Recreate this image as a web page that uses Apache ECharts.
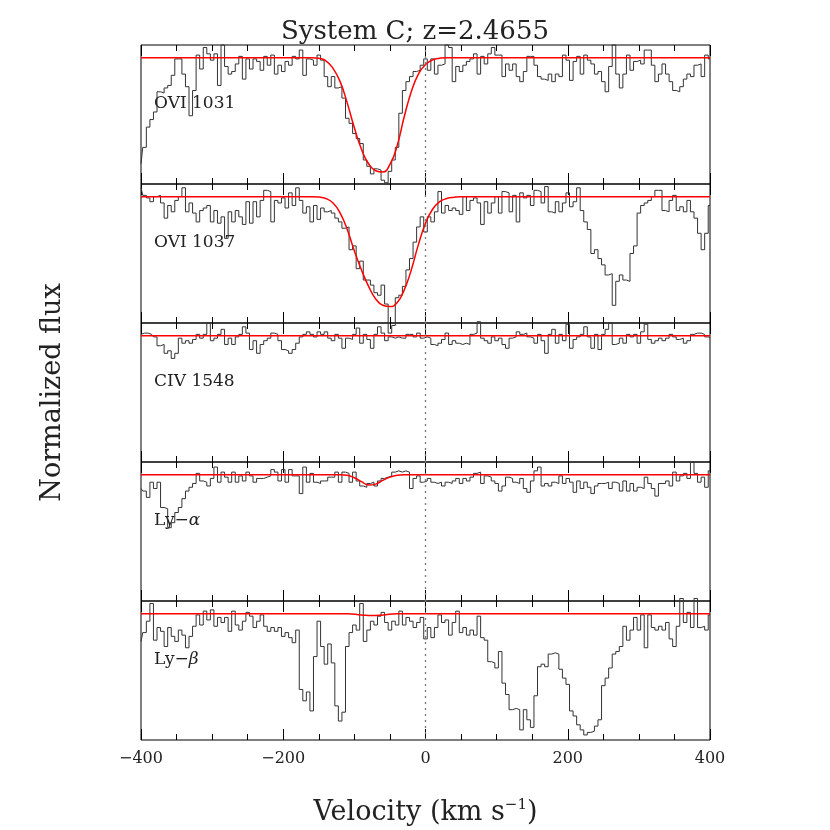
<!DOCTYPE html>
<html>
<head>
<meta charset="utf-8">
<script src="https://cdn.jsdelivr.net/npm/echarts@6/dist/echarts.min.js"></script>
<style>
  html, body { margin: 0; padding: 0; background: #fff; }
  #chart { width: 830px; height: 830px; }
</style>
</head>
<body>
<div id="chart"></div>
<script>
// velocity bins (km/s), 5 km/s wide
const vStart = -400
const vStep = 5
const velocity = []
for (let v = vStart; v <= 400; v += vStep) velocity.push(v)

// normalized flux per bin
const ovi1031 = [
  0.16, 0.29, 0.45, 0.51, 0.57, 0.73, 0.72, 0.76, 0.78, 0.86, 0.99, 0.99, 0.87, 0.77, 0.54, 0.74, 1.02, 0.91, 1.08, 1.03,
  0.98, 1.03, 0.78, 1.10, 0.93, 0.87, 0.89, 0.95, 1.01, 0.83, 0.99, 0.91, 0.99, 0.97, 0.90, 1.01, 0.94, 1.02, 0.87, 0.94,
  0.89, 0.97, 0.94, 1.01, 0.99, 1.06, 0.86, 0.99, 0.98, 0.94, 1.02, 0.98, 0.85, 0.77, 0.85, 0.76, 0.77, 0.68, 0.52, 0.48,
  0.40, 0.36, 0.32, 0.19, 0.14, 0.08, 0.12, 0.11, 0.03, 0.01, 0.10, 0.19, 0.29, 0.56, 0.74, 0.81, 0.85, 0.89, 0.90, 0.94,
  0.99, 0.90, 0.99, 0.87, 0.94, 0.95, 1.10, 1.08, 0.81, 0.93, 0.89, 0.94, 0.97, 0.99, 1.03, 0.87, 1.01, 0.95, 1.03, 1.08,
  1.02, 1.02, 0.85, 0.95, 0.90, 0.95, 0.85, 0.81, 0.89, 1.01, 1.01, 0.94, 0.85, 0.83, 0.82, 0.87, 0.81, 0.87, 0.85, 1.02,
  0.98, 0.82, 0.97, 1.01, 0.87, 1.02, 0.98, 0.95, 0.87, 0.89, 0.81, 0.73, 0.93, 1.10, 0.87, 0.76, 0.87, 1.02, 0.90, 0.97,
  0.98, 0.95, 1.06, 1.06, 0.94, 0.81, 0.87, 0.95, 0.87, 0.81, 0.74, 0.73, 0.77, 0.83, 0.87, 0.85, 0.94, 0.95, 0.85, 1.02,
  0.99
]
const ovi1037 = [
  1.07, 1.01, 0.99, 0.96, 1.00, 1.01, 0.95, 0.83, 0.93, 0.88, 0.97, 1.00, 1.07, 0.88, 0.95, 0.87, 0.80, 0.89, 0.91, 0.93,
  0.80, 0.89, 0.79, 0.84, 0.67, 0.88, 0.80, 0.89, 0.84, 0.78, 0.96, 0.79, 0.96, 0.84, 0.97, 1.05, 1.04, 0.80, 0.97, 0.95,
  0.99, 0.91, 1.03, 0.93, 1.07, 0.97, 0.87, 0.92, 0.80, 0.93, 0.82, 0.91, 0.88, 0.89, 0.87, 0.83, 0.80, 0.75, 0.76, 0.58,
  0.61, 0.43, 0.49, 0.34, 0.34, 0.30, 0.24, 0.22, 0.30, 0.15, -0.08, -0.02, 0.20, 0.22, 0.29, 0.42, 0.51, 0.64, 0.76, 0.84,
  0.72, 0.84, 0.80, 0.88, 1.04, 0.87, 0.93, 0.89, 0.91, 0.89, 0.86, 1.00, 0.89, 0.97, 0.99, 0.95, 0.78, 0.96, 0.87, 0.95,
  1.00, 0.87, 1.04, 1.03, 0.88, 1.01, 0.80, 1.03, 0.99, 1.01, 0.93, 1.05, 1.04, 0.95, 1.08, 0.88, 0.87, 0.96, 0.88, 0.95,
  1.03, 0.92, 0.96, 1.07, 0.89, 0.80, 0.74, 0.55, 0.58, 0.51, 0.46, 0.38, 0.39, 0.14, 0.33, 0.38, 0.34, 0.33, 0.55, 0.61,
  0.87, 0.93, 0.95, 0.97, 1.00, 1.05, 1.05, 0.89, 0.88, 0.97, 1.01, 0.89, 0.92, 0.88, 0.97, 0.88, 0.83, 0.71, 0.58, 0.71,
  0.93
]
const civ1548 = [
  1.01, 1.02, 1.02, 1.01, 0.99, 0.92, 0.93, 0.86, 0.88, 0.82, 0.86, 0.98, 0.94, 0.96, 0.94, 0.97, 1.01, 0.98, 1.01, 1.10,
  0.96, 0.98, 1.01, 1.05, 0.93, 0.98, 0.93, 0.99, 1.01, 1.07, 1.02, 0.89, 0.96, 0.86, 0.93, 0.96, 0.98, 1.02, 1.01, 0.96,
  0.89, 0.88, 0.86, 0.89, 0.94, 0.99, 1.01, 1.03, 1.01, 0.99, 1.03, 1.01, 1.03, 0.98, 0.96, 1.01, 0.98, 0.90, 0.98, 0.97,
  1.01, 1.06, 0.94, 1.01, 0.97, 0.90, 1.01, 1.07, 1.02, 0.96, 0.99, 0.98, 0.99, 0.98, 0.98, 1.01, 1.01, 0.99, 1.02, 0.98,
  0.99, 0.98, 0.93, 0.92, 0.94, 0.97, 1.02, 0.93, 0.96, 0.94, 0.93, 0.94, 0.93, 1.01, 1.02, 1.11, 0.98, 0.96, 0.94, 0.99,
  0.96, 0.98, 0.93, 0.90, 0.98, 0.99, 1.03, 1.01, 1.02, 0.99, 0.98, 0.94, 1.01, 0.96, 0.86, 1.01, 1.05, 0.94, 1.01, 0.96,
  1.09, 0.90, 0.97, 0.99, 1.01, 1.07, 0.99, 0.90, 1.01, 0.89, 1.01, 1.05, 1.10, 0.93, 0.94, 0.98, 0.94, 1.01, 0.99, 1.01,
  0.94, 1.03, 1.09, 0.97, 0.94, 0.96, 0.98, 0.96, 0.98, 1.01, 0.99, 0.97, 0.98, 0.94, 0.96, 1.01, 1.02, 1.02, 1.01, 0.99,
  0.98
]
const lyAlpha = [
  0.89, 0.87, 0.82, 0.94, 0.89, 0.94, 0.74, 0.73, 0.58, 0.62, 0.70, 0.74, 0.81, 0.87, 0.90, 0.93, 1.01, 0.95, 0.94, 0.91,
  0.97, 1.06, 0.94, 1.02, 0.98, 0.94, 1.02, 0.94, 0.99, 0.95, 1.02, 0.99, 0.94, 0.97, 0.97, 0.98, 0.99, 1.04, 1.02, 0.95,
  1.04, 0.94, 1.04, 0.99, 0.99, 0.85, 1.06, 0.94, 1.01, 0.94, 0.93, 0.95, 0.95, 0.98, 0.98, 1.02, 0.94, 1.02, 1.01, 0.94,
  1.02, 0.95, 0.91, 0.90, 0.93, 0.94, 0.91, 0.95, 0.97, 0.98, 0.99, 1.02, 1.03, 1.02, 1.03, 1.02, 0.89, 0.97, 0.99, 0.94,
  0.95, 0.97, 0.94, 0.93, 0.94, 0.91, 0.94, 0.93, 0.95, 0.97, 0.93, 0.97, 0.95, 0.98, 1.01, 1.02, 0.93, 0.99, 0.98, 0.95,
  0.93, 0.87, 0.91, 0.98, 0.97, 0.94, 0.93, 0.97, 0.89, 0.86, 0.95, 1.03, 1.06, 0.91, 0.93, 0.91, 0.94, 0.93, 0.99, 0.93,
  0.97, 0.94, 0.86, 0.95, 0.89, 0.94, 0.90, 0.85, 0.91, 0.93, 0.93, 0.94, 0.89, 0.94, 0.93, 0.87, 0.95, 0.87, 0.93, 0.87,
  0.90, 0.89, 0.98, 0.93, 0.89, 0.83, 0.93, 0.93, 0.95, 0.91, 1.02, 0.95, 0.99, 1.01, 0.97, 1.10, 1.01, 0.94, 0.98, 0.90,
  1.03
]
const lyBeta = [
  0.78, 0.85, 0.94, 1.08, 0.79, 0.89, 0.86, 0.74, 0.89, 0.82, 0.78, 0.87, 0.83, 0.73, 0.82, 0.90, 0.99, 0.91, 1.02, 0.95,
  1.03, 0.90, 0.97, 0.93, 0.97, 0.86, 1.02, 0.91, 0.87, 0.94, 1.01, 0.98, 0.89, 0.94, 0.99, 0.90, 0.86, 0.89, 0.86, 0.89,
  0.82, 0.85, 0.81, 0.77, 0.87, 0.40, 0.31, 0.38, 0.23, 0.66, 0.94, 0.74, 0.60, 0.76, 0.61, 0.27, 0.15, 0.22, 0.74, 0.85,
  0.91, 0.87, 1.08, 0.78, 0.87, 0.94, 0.91, 0.98, 1.01, 0.93, 0.87, 0.94, 0.91, 1.02, 0.91, 0.97, 0.94, 0.89, 0.93, 0.97,
  0.80, 0.89, 0.81, 0.89, 0.99, 0.93, 0.95, 0.83, 0.93, 1.02, 0.85, 0.89, 0.83, 0.87, 0.83, 0.98, 0.81, 0.79, 0.62, 0.61,
  0.57, 0.70, 0.45, 0.36, 0.24, 0.25, 0.24, 0.08, 0.24, 0.16, 0.10, 0.35, 0.58, 0.60, 0.58, 0.68, 0.69, 0.68, 0.56, 0.49,
  0.44, 0.23, 0.19, 0.12, 0.08, 0.04, 0.06, 0.07, 0.11, 0.16, 0.43, 0.49, 0.57, 0.68, 0.70, 0.74, 0.90, 0.79, 0.87, 0.97,
  0.87, 0.99, 0.73, 0.99, 0.89, 0.87, 0.90, 0.87, 0.93, 0.80, 0.74, 0.90, 1.12, 0.93, 1.01, 0.89, 1.12, 0.89, 0.90, 0.87,
  0.99
]

// fitted model profiles [velocity, flux]
const model1031 = [
  [-400, 1], [-300, 1], [-200, 1], [-170, 1.0], [-160, 1.0], [-150, 0.995], [-140, 0.975], [-130, 0.915], [-120, 0.81],
  [-110, 0.64], [-100, 0.445], [-90, 0.275], [-80, 0.16], [-70, 0.105], [-60, 0.095], [-50, 0.155], [-40, 0.30],
  [-30, 0.53], [-20, 0.73], [-10, 0.87], [0, 0.945], [10, 0.982], [20, 0.995], [30, 1.0], [40, 1.0], [70, 1], [200, 1], [400, 1]
]
const model1037 = [
  [-400, 1], [-300, 1], [-200, 1], [-170, 1.0], [-160, 1.0], [-150, 0.997], [-140, 0.985], [-130, 0.95], [-120, 0.87],
  [-110, 0.74], [-100, 0.57], [-90, 0.42], [-80, 0.29], [-70, 0.19], [-60, 0.14], [-50, 0.13], [-40, 0.16], [-30, 0.26],
  [-20, 0.42], [-10, 0.62], [0, 0.79], [10, 0.90], [20, 0.96], [30, 0.985], [40, 0.995], [50, 1.0], [60, 1.0], [90, 1], [200, 1], [400, 1]
]
const model1548 = [[-400, 1], [400, 1]]
const modelLyA = [
  [-400, 1], [-200, 1], [-130, 1], [-120, 1.0], [-110, 0.995], [-100, 0.975], [-90, 0.945], [-80, 0.917], [-70, 0.925],
  [-60, 0.955], [-50, 0.98], [-40, 0.995], [-30, 1.0], [-20, 1.0], [10, 1], [200, 1], [400, 1]
]
const modelLyB = [
  [-400, 1], [-200, 1], [-120, 1], [-110, 1.0], [-90, 0.99], [-75, 0.985], [-60, 0.99], [-40, 1.0], [-30, 1.0], [0, 1], [200, 1], [400, 1]
]

const panelLabels = ['OVI 1031', 'OVI 1037', 'CIV 1548', 'Ly\u2212{g|\u03b1}', 'Ly\u2212{g|\u03b2}']
const spectra = [ovi1031, ovi1037, civ1548, lyAlpha, lyBeta]
const models = [model1031, model1037, model1548, modelLyA, modelLyB]

const FONT = 'DejaVu Serif'
const TEXT = '#222'
const plotLeft = 141
const plotWidth = 569
const panelTop = 45
const panelHeight = 139

const chart = echarts.init(document.getElementById('chart'))

const grids = []
const xAxes = []
const yAxes = []
const series = []
const labels = []

spectra.forEach((flux, i) => {
  const last = i === spectra.length - 1
  grids.push({
    left: plotLeft, width: plotWidth,
    top: panelTop + i * panelHeight, height: panelHeight,
    show: true, borderColor: '#000', borderWidth: 1
  })
  // bottom and top tick rows, ticks pointing inward
  ;['bottom', 'top'].forEach(pos => {
    const bottom = pos === 'bottom'
    xAxes.push({
      gridIndex: i, type: 'value', position: pos,
      min: -400, max: 400, interval: 200,
      axisLine: { show: false },
      splitLine: { show: false },
      axisTick: { show: true, inside: true, length: 11, lineStyle: { color: '#000', width: 1 } },
      minorTick: { show: true, splitNumber: 4, length: 6, lineStyle: { color: '#000', width: 1 } },
      axisLabel: {
        show: bottom && last, margin: 11,
        fontFamily: FONT, fontSize: 16, color: TEXT,
        formatter: v => String(v).replace('-', '\u2212')
      },
      name: bottom && last ? 'Velocity (km s{sup|\u22121})' : '',
      nameLocation: 'middle', nameGap: 58,
      nameTextStyle: {
        fontFamily: FONT, fontSize: 27, color: TEXT,
        rich: { sup: { fontFamily: FONT, fontSize: 15, color: TEXT, padding: [0, 0, 14, 0] } }
      }
    })
  })
  yAxes.push({
    gridIndex: i, type: 'value', min: 0, max: 1.1,
    axisLine: { show: false }, axisTick: { show: false },
    axisLabel: { show: false }, splitLine: { show: false },
    name: i === 2 ? 'Normalized flux' : '',
    nameLocation: 'middle', nameGap: 75, nameRotate: 90,
    nameTextStyle: { fontFamily: FONT, fontSize: 27, color: TEXT }
  })
  series.push({
    type: 'line', xAxisIndex: 2 * i, yAxisIndex: i,
    data: velocity.map((v, k) => [v, flux[k]]),
    step: 'middle', symbol: 'none', clip: false,
    lineStyle: { color: '#333', width: 1 },
    z: 2,
    markLine: {
      silent: true, symbol: ['none', 'none'],
      label: { show: false },
      lineStyle: { color: '#777', type: [2, 4], width: 1.3 },
      data: [{ xAxis: 0 }]
    }
  })
  series.push({
    type: 'line', xAxisIndex: 2 * i, yAxisIndex: i,
    data: models[i], smooth: 0.5,
    symbol: 'none', lineStyle: { color: '#ff0000', width: 1.5 },
    z: 3
  })
  labels.push({
    type: 'text', x: 154, y: panelTop + i * panelHeight + 59,
    style: {
      text: panelLabels[i], fontFamily: FONT, fontSize: 17, fill: TEXT,
      verticalAlign: 'middle',
      rich: { g: { fontFamily: FONT, fontSize: 17, fontStyle: 'italic', fill: TEXT } }
    }
  })
})

chart.setOption({
  animation: false,
  backgroundColor: '#fff',
  title: {
    text: 'System C; z=2.4655', left: 'center', top: 14,
    textStyle: { fontFamily: FONT, fontSize: 26, fontWeight: 'normal', color: TEXT }
  },
  grid: grids,
  xAxis: xAxes,
  yAxis: yAxes,
  series: series,
  graphic: labels
})
</script>
</body>
</html>
